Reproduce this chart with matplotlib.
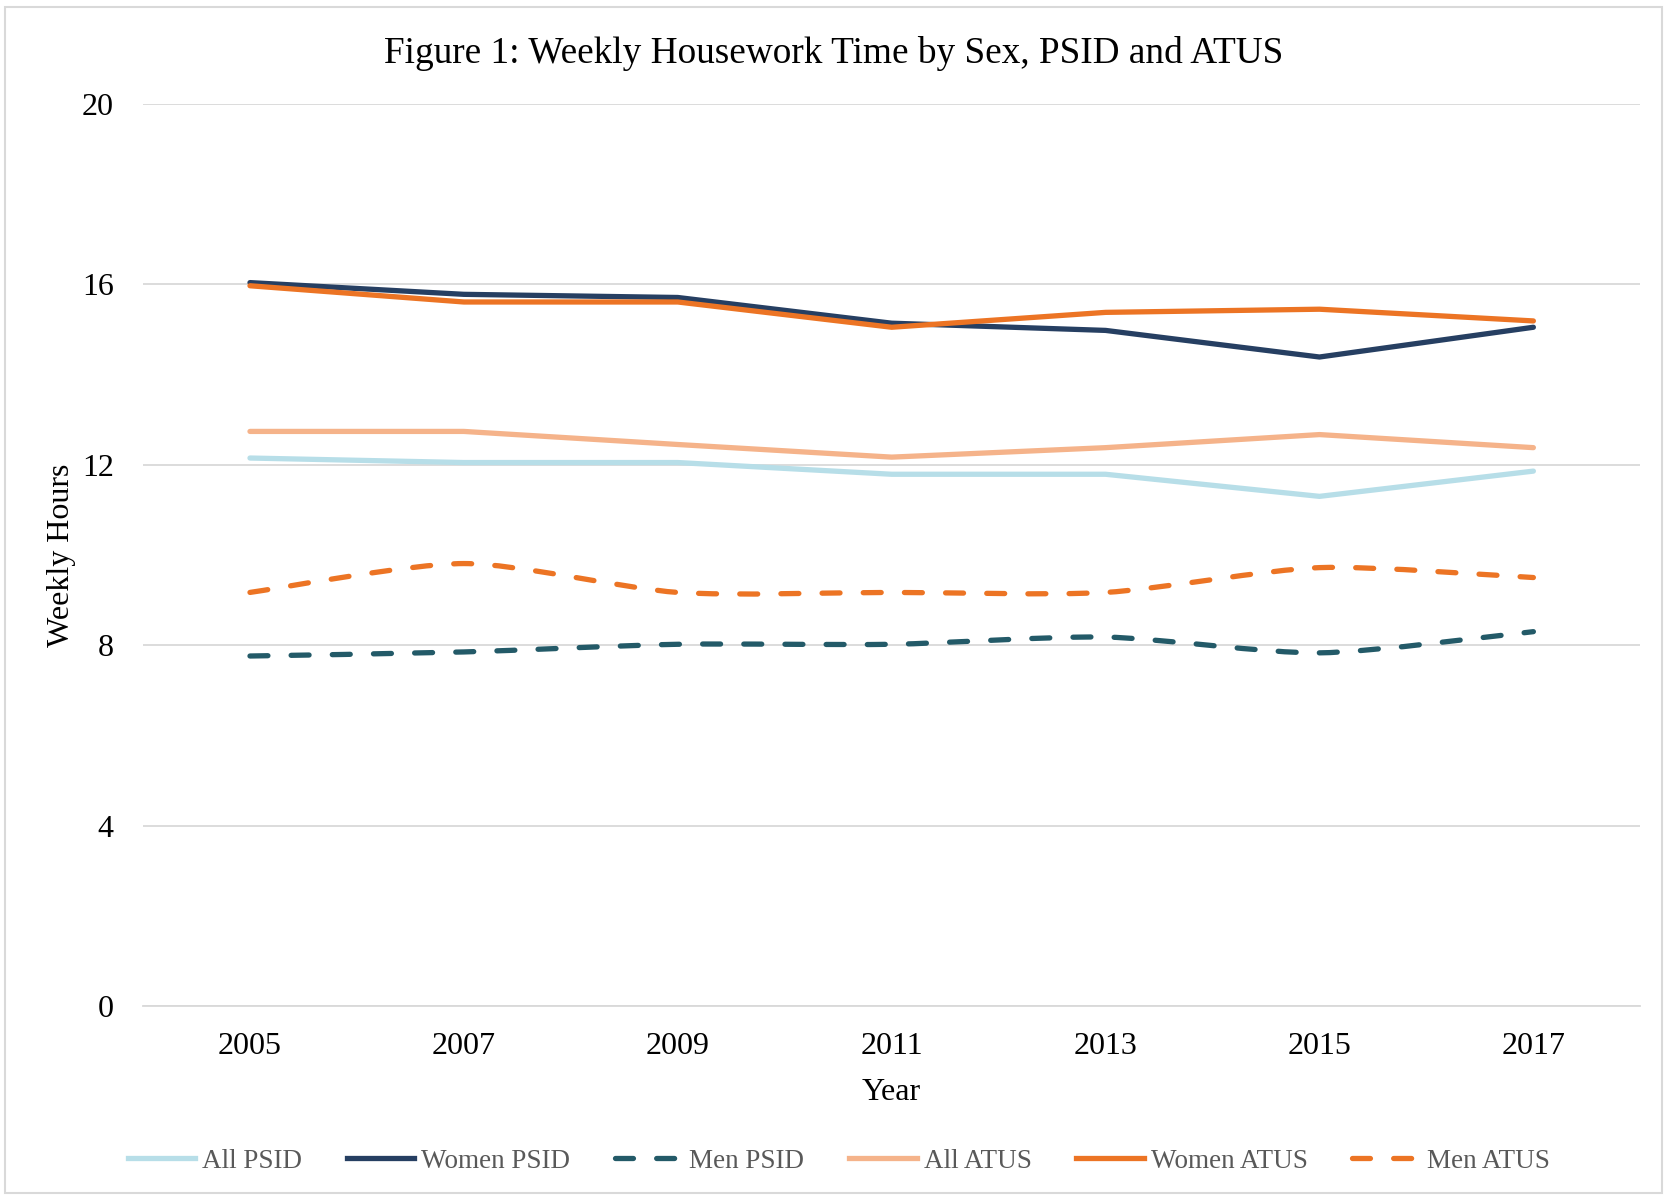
import matplotlib.pyplot as plt
from matplotlib.lines import Line2D
from matplotlib.path import Path
from matplotlib.patches import PathPatch, Rectangle

plt.rcParams['font.family'] = ['Liberation Serif', 'DejaVu Serif']

years = [2005, 2007, 2009, 2011, 2013, 2015, 2017]
all_psid = [12.15, 12.05, 12.05, 11.79, 11.79, 11.30, 11.86]
women_psid = [16.04, 15.78, 15.71, 15.14, 14.98, 14.39, 15.05]
men_psid = [7.76, 7.85, 8.02, 8.02, 8.18, 7.83, 8.30]
all_atus = [12.74, 12.74, 12.45, 12.17, 12.38, 12.67, 12.38]
women_atus = [15.97, 15.61, 15.61, 15.05, 15.38, 15.45, 15.19]
men_atus = [9.17, 9.81, 9.17, 9.17, 9.17, 9.72, 9.50]

y_ticks = [0, 4, 8, 12, 16, 20]

c_all_psid = '#B7DEE8'
c_women_psid = '#263F62'
c_men_psid = '#235A68'
c_all_atus = '#F5B38A'
c_women_atus = '#EC7424'
c_men_atus = '#EC7424'

LW = 3.8
DASH = (3.4, 4.4)


def smooth_path(xs, ys, k=8.0):
    # smoothed line like excel, catmull-rom style bezier
    pts = list(zip(xs, ys))
    verts = [pts[0]]
    codes = [Path.MOVETO]
    n = len(pts)
    for i in range(n - 1):
        p0 = pts[i - 1] if i > 0 else pts[i]
        p1 = pts[i]
        p2 = pts[i + 1]
        p3 = pts[i + 2] if i + 2 < n else pts[i + 1]
        c1 = (p1[0] + (p2[0] - p0[0]) / k, p1[1] + (p2[1] - p0[1]) / k)
        c2 = (p2[0] - (p3[0] - p1[0]) / k, p2[1] - (p3[1] - p1[1]) / k)
        verts += [c1, c2, p2]
        codes += [Path.CURVE4] * 3
    return Path(verts, codes)


fig = plt.figure(figsize=(16.67, 11.97), dpi=100)
fig.patches.append(Rectangle((0.003, 0.003), 0.994, 0.991, transform=fig.transFigure,
                             fill=False, edgecolor='#D9D9D9', linewidth=1.5))
ax = fig.add_axes([0.0858, 0.1596, 0.8982, 0.7535])

ax.plot(years, all_psid, color=c_all_psid, lw=LW, solid_capstyle='round', zorder=3)
ax.plot(years, women_psid, color=c_women_psid, lw=LW, solid_capstyle='round', zorder=4)
ax.plot(years, all_atus, color=c_all_atus, lw=LW, solid_capstyle='round', zorder=3)
ax.plot(years, women_atus, color=c_women_atus, lw=LW, solid_capstyle='round', zorder=5)
for vals, col in [(men_psid, c_men_psid), (men_atus, c_men_atus)]:
    ax.add_patch(PathPatch(smooth_path(years, vals), fill=False, edgecolor=col, lw=LW,
                           linestyle=(0, DASH), capstyle='round', zorder=3))

ax.set_xlim(2004, 2018)
ax.set_ylim(0, 20)
ax.set_yticks(y_ticks)
ax.set_xticks(years)
ax.grid(axis='y', color='#D9D9D9', linewidth=1.3, zorder=0)
ax.set_axisbelow(True)
for s in ['top', 'right', 'left']:
    ax.spines[s].set_visible(False)
ax.spines['bottom'].set_color('#D9D9D9')
ax.spines['bottom'].set_linewidth(1.3)
ax.tick_params(axis='both', length=0, labelsize=23, colors='black')
ax.tick_params(axis='y', pad=21)
ax.tick_params(axis='x', pad=19)

ax.set_xlabel('Year', fontsize=23, labelpad=12)
ax.set_ylabel('Weekly Hours', fontsize=23, labelpad=4)
fig.text(0.5, 0.955, 'Figure 1: Weekly Housework Time by Sex, PSID and ATUS',
         ha='center', va='center', fontsize=26.8)

handles = [
    Line2D([], [], color=c_all_psid, lw=LW),
    Line2D([], [], color=c_women_psid, lw=LW),
    Line2D([], [], color=c_men_psid, lw=LW, linestyle=(0, DASH), dash_capstyle='round'),
    Line2D([], [], color=c_all_atus, lw=LW),
    Line2D([], [], color=c_women_atus, lw=LW),
    Line2D([], [], color=c_men_atus, lw=LW, linestyle=(0, DASH), dash_capstyle='round'),
]
labels = ['All PSID', 'Women PSID', 'Men PSID', 'All ATUS', 'Women ATUS', 'Men ATUS']
leg = fig.legend(handles, labels, loc='center', bbox_to_anchor=(0.503, 0.030), ncol=6,
                 frameon=False, fontsize=19.5, handlelength=2.5, handletextpad=0.25,
                 columnspacing=1.65, labelcolor='#595959')

fig.savefig('out.png', dpi=100)
